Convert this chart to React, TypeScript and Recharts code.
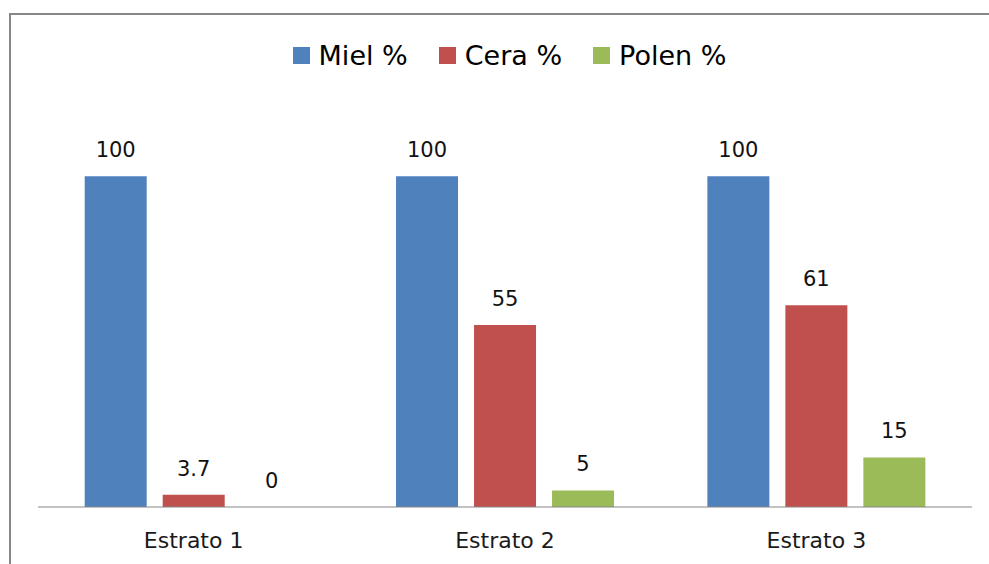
import React from "react";
import { BarChart, Bar, XAxis, YAxis, Legend, LabelList } from "recharts";

const categories = ["Estrato 1", "Estrato 2", "Estrato 3"];
const mielValues = [100, 100, 100];
const ceraValues = [3.7, 55, 61];
const polenValues = [0, 5, 15];
const seriesNames = ["Miel %", "Cera %", "Polen %"];
const seriesColors = ["#4F81BD", "#C0504D", "#9BBB59"];

const data = categories.map((c, i) => ({
  name: c,
  miel: mielValues[i],
  cera: ceraValues[i],
  polen: polenValues[i],
}));

const FONT = "'DejaVu Sans', sans-serif";

const renderLegend = () => (
  <div
    style={{
      display: "flex",
      justifyContent: "center",
      alignItems: "center",
      height: 40,
      fontFamily: FONT,
      fontSize: 27,
      color: "#000",
      paddingLeft: 30,
    }}
  >
    {seriesNames.map((n, i) => (
      <div
        key={n}
        style={{ display: "flex", alignItems: "center", marginRight: i < 2 ? 31 : 0 }}
      >
        <div
          style={{ width: 17, height: 17, background: seriesColors[i], marginRight: 9 }}
        />
        <span>{n}</span>
      </div>
    ))}
  </div>
);

const renderValueLabel = (props: any) => {
  const { x, y, width, value } = props;
  if (value === undefined || value === null) return null;
  return (
    <text
      x={Number(x) + Number(width) / 2}
      y={Number(y) - 19}
      textAnchor="middle"
      fontFamily={FONT}
      fontSize={21}
      fill="#111"
    >
      {value}
    </text>
  );
};

const zeroMin = (value: any) => (value === 0 ? 0.01 : 0);

export default function App() {
  return (
    <div
      style={{
        position: "fixed",
        left: 0,
        top: 0,
        width: 989,
        height: 564,
        overflow: "hidden",
        background: "#fff",
      }}
    >
      <div
        style={{
          position: "absolute",
          left: 8.5,
          top: 12.5,
          width: 1200,
          height: 800,
          border: "2px solid #878787",
          boxSizing: "border-box",
        }}
      />
      <div style={{ position: "absolute", left: 0, top: 0 }}>
        <BarChart
          width={989}
          height={564}
          data={data}
          margin={{ top: 70, right: 17, bottom: 17, left: 38 }}
          barCategoryGap="15%"
          barGap={16}
        >
          <XAxis
            dataKey="name"
            height={40}
            tickLine={false}
            tickSize={6}
            tickMargin={19}
            axisLine={{ stroke: "#868686", strokeWidth: 1 }}
            tick={{ fontFamily: FONT, fontSize: 22, fill: "#1a1a1a" }}
          />
          <YAxis hide domain={[0, 120]} />
          <Legend
            verticalAlign="top"
            height={40}
            content={renderLegend}
            wrapperStyle={{ top: 35, left: 0, width: 989 }}
          />
          <Bar dataKey="miel" name={seriesNames[0]} fill={seriesColors[0]} isAnimationActive={false}>
            <LabelList dataKey="miel" content={renderValueLabel} />
          </Bar>
          <Bar dataKey="cera" name={seriesNames[1]} fill={seriesColors[1]} isAnimationActive={false}>
            <LabelList dataKey="cera" content={renderValueLabel} />
          </Bar>
          <Bar
            dataKey="polen"
            name={seriesNames[2]}
            fill={seriesColors[2]}
            minPointSize={zeroMin}
            isAnimationActive={false}
          >
            <LabelList dataKey="polen" content={renderValueLabel} />
          </Bar>
        </BarChart>
      </div>
    </div>
  );
}
